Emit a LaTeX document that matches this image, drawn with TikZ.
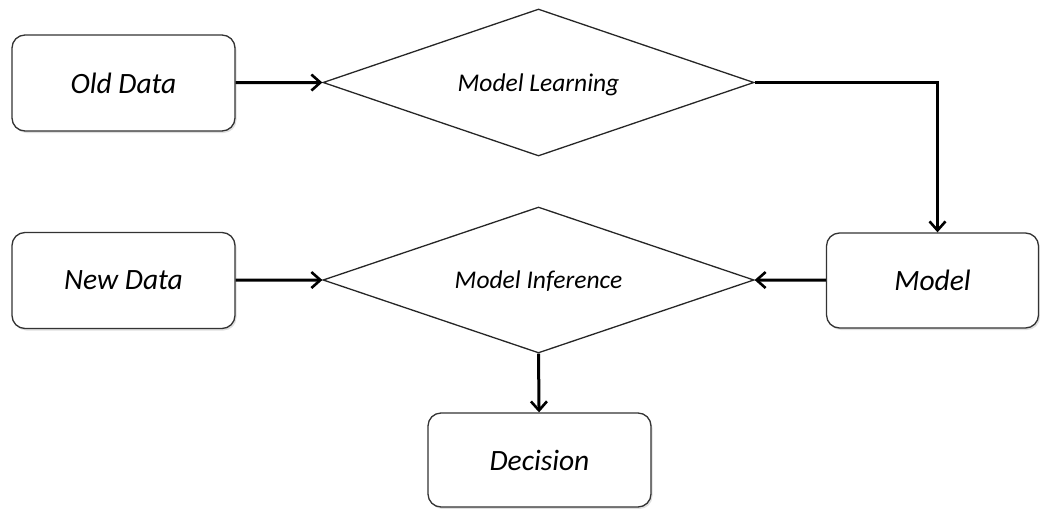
\documentclass[tikz,border=0pt]{standalone}
\usepackage{fontspec}
\setmainfont{Carlito}
\usetikzlibrary{shapes.geometric,arrows.meta,shadows}
\begin{document}
\begin{tikzpicture}[x=1pt,y=-1pt,
  box/.style={draw=black!80, line width=1.3pt, rounded corners=13pt, fill=white,
    minimum width=223pt, minimum height=96pt, inner sep=0pt, text depth=0pt,
    font=\fontsize{29.5}{34}\selectfont\itshape,
    drop shadow={shadow xshift=1.5pt, shadow yshift=-2pt, opacity=0.25}},
  dia/.style={draw=black!85, line width=1.3pt, diamond, aspect=2.93, inner sep=0pt,
    minimum width=431pt, minimum height=147pt, fill=white, text depth=0pt,
    font=\fontsize{25.5}{30}\selectfont\itshape},
  flow/.style={draw=black, line width=3pt, -{Straight Barb[length=9pt,width=16pt,line width=2.6pt]}}]
\useasboundingbox (0,0) rectangle (1040,508);
\node[box] (old) at (123.5,83) {Old Data};
\node[dia] (learn) at (538.5,82.5) {Model Learning};
\node[box] (new) at (123.5,280.5) {New Data};
\node[dia, minimum height=146pt] (infer) at (538.5,280) {Model Inference};
\node[box, minimum width=212pt, minimum height=95pt] (model) at (932.5,280.5) {Model};
\node[box, minimum height=94pt] (dec) at (539.5,460) {Decision};
\coordinate (mtop) at ([xshift=5pt]model.north);
\draw[flow] (old) -- (learn.west);
\draw[flow] (learn.east) -| (mtop);
\draw[flow] (new) -- (infer.west);
\draw[flow] (model) -- (infer.east);
\draw[flow] (infer.south) -- (dec);
\end{tikzpicture}
\end{document}
